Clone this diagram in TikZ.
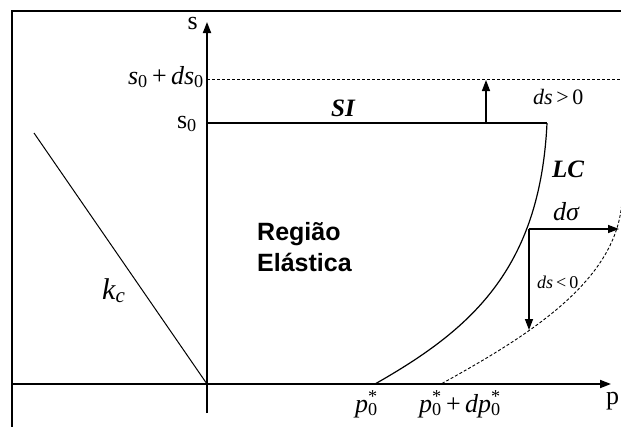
\documentclass[tikz,border=0pt]{standalone}
\usepackage{fontspec}
\setmainfont{Liberation Serif}
\newfontfamily\arialfont{Liberation Sans}
\usetikzlibrary{arrows.meta}
\newcommand\subsupx[2]{\rlap{\textsuperscript{#2}}\textsubscript{#1}}
\begin{document}
\begin{tikzpicture}[x=1pt,y=-1pt,
  frameline/.style={line width=2pt},
  axisline/.style={line width=1.8pt,-{Triangle[length=11pt,width=8pt]}},
  arrowline/.style={line width=1.4pt,-{Triangle[length=11pt,width=8pt]}},
  thinline/.style={line width=1pt},
  curveline/.style={line width=1.2pt},
  dashline/.style={line width=0.9pt,dash pattern=on 3pt off 2pt},
  lbl/.style={inner sep=0pt,font=\fontsize{26}{30}\selectfont},
  bigsans/.style={inner sep=0pt,font=\arialfont\bfseries\fontsize{25}{29}\selectfont}]
\useasboundingbox (0,0) rectangle (621,426);
\clip (0,0) rectangle (621,426);
% frame
\coordinate (fbl) at (12,430);
\coordinate (ftl) at (12,11);
\coordinate (ftr) at (625,11);
\draw[frameline] (fbl) -- (ftl) -- (ftr);
% axes
\coordinate (sbot) at (207,413);
\coordinate (stop) at (207,22);
\coordinate (pleft) at (12,384);
\coordinate (pright) at (611,384);
\coordinate (O) at (207,384);
\draw[axisline] (sbot) -- (stop);
\draw[axisline] (pleft) -- (pright);
% SI line
\coordinate (s0a) at (207,123);
\coordinate (s0b) at (547,123);
\draw[line width=1.8pt] (s0a) -- (s0b);
% dashed s0+ds0
\coordinate (dsa) at (207,79);
\coordinate (dsb) at (625,79);
\draw[dashline] (dsa) -- (dsb);
% up arrow
\coordinate (upa) at (486,123);
\coordinate (upb) at (486,80);
\draw[arrowline] (upa) -- (upb);
% kc line
\coordinate (kc0) at (34,133);
\draw[thinline] (kc0) -- (O);
% LC curve
\coordinate (p0) at (375,384);
\draw[curveline] (s0b) .. controls (540,270) and (470,330) .. (p0);
% dashed LC curve
\coordinate (dtop) at (622,200);
\coordinate (p0d) at (441,384);
\draw[dashline] (dtop) .. controls (618,280) and (530,335) .. (p0d);
% arrows from the curve point
\coordinate (A) at (529,229);
\coordinate (Ar) at (619,229);
\coordinate (Ad) at (529,330);
\draw[arrowline] (A) -- (Ar);
\draw[arrowline] (A) -- (Ad);
% labels
\node[lbl,anchor=base east] (ls) at (198,29) {s};
\node[lbl,anchor=base east] (lsds) at (204,84) {\textit{s}\textsubscript{0}\,+\,\textit{ds}\textsubscript{0}};
\node[lbl,anchor=base east] (ls0) at (197,128) {s\textsubscript{0}};
\node[lbl,anchor=base west,font=\bfseries\itshape\fontsize{25}{30}\selectfont] (lSI) at (331,116) {SI};
\node[lbl,anchor=base west,font=\itshape\fontsize{22}{26}\selectfont] (ldsp) at (533,104) {ds\,\upshape{>}\,0};
\node[lbl,anchor=base west,font=\bfseries\itshape\fontsize{25}{30}\selectfont] (lLC) at (552,177) {LC};
\node[lbl,anchor=base west,font=\itshape\fontsize{26}{30}\selectfont] (ldsig) at (553,220) {dσ};
\node[lbl,anchor=base west,font=\itshape\fontsize{18}{22}\selectfont] (ldsm) at (537,288) {ds\,\upshape{<}\,0};
\node[lbl,anchor=base west,font=\itshape\fontsize{30}{34}\selectfont] (lkc) at (102,299) {k\textsubscript{c}};
\node[lbl,anchor=base west,font=\itshape\fontsize{26}{30}\selectfont] (lp0) at (355,412) {p\subsupx{\upshape 0}{\upshape *}};
\node[lbl,anchor=base west,font=\itshape\fontsize{26}{30}\selectfont] (lp0d) at (419,412) {p\subsupx{\upshape 0}{\upshape *}\,\upshape{+}\,\itshape dp\subsupx{\upshape 0}{\upshape *}};
\node[lbl,anchor=base west] (lp) at (606,404) {p};
\node[bigsans,anchor=base west] (reg1) at (257,240) {Região};
\node[bigsans,anchor=base west] (reg2) at (257,271) {Elástica};
\end{tikzpicture}
\end{document}
